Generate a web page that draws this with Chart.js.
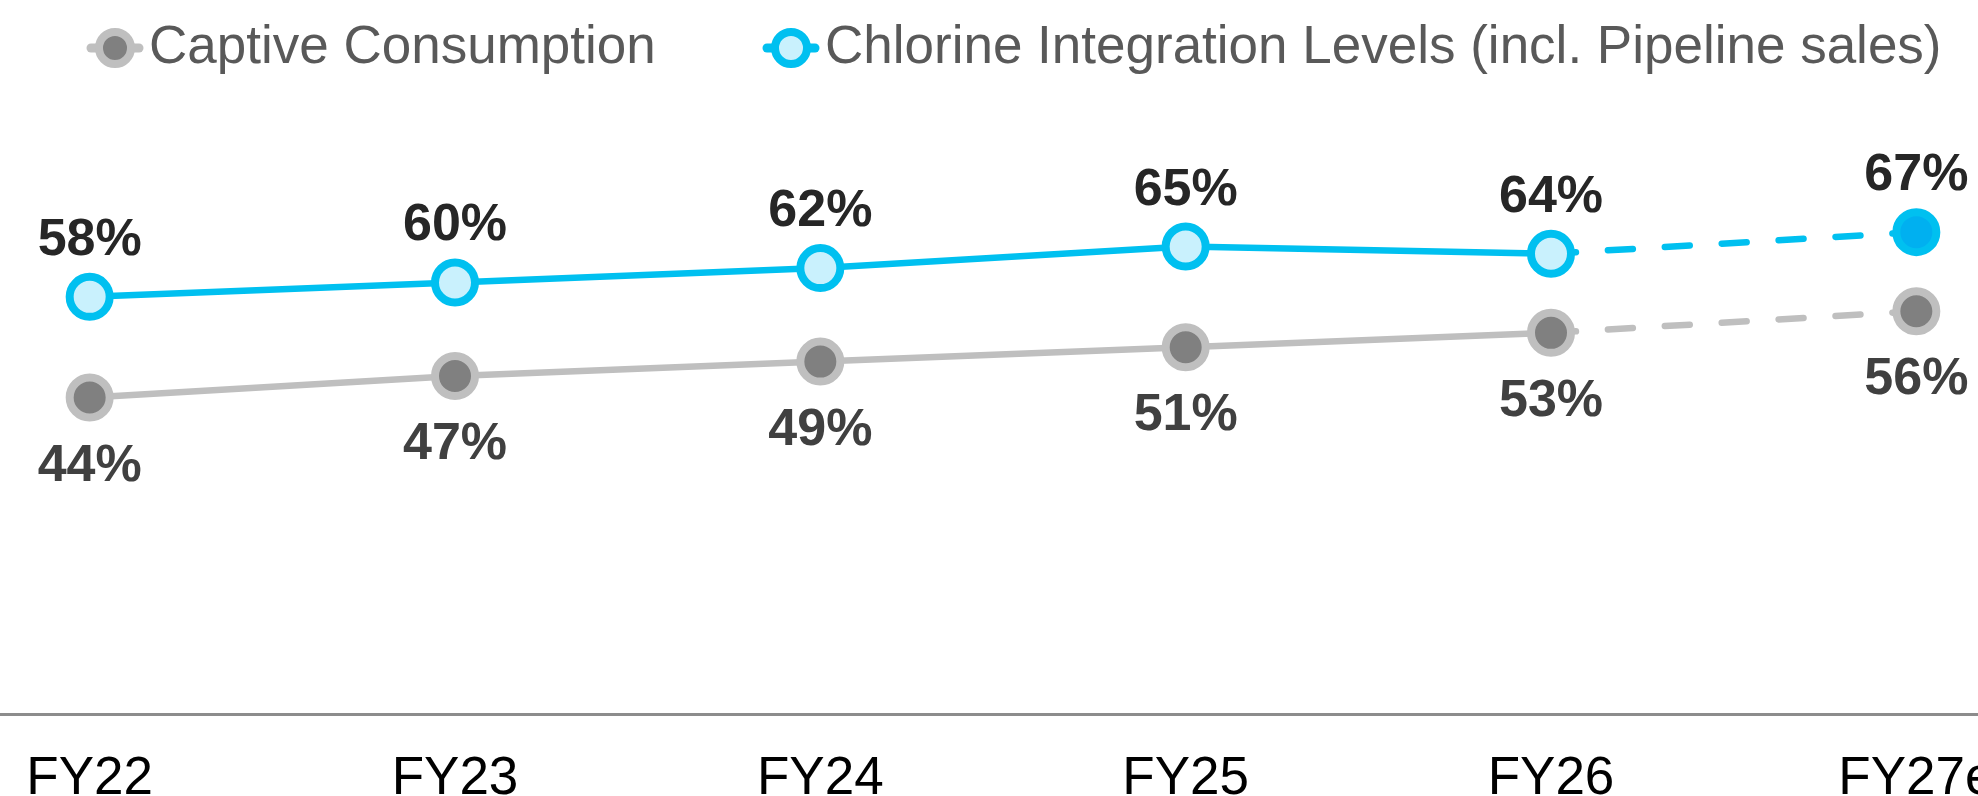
<!DOCTYPE html>
<html>
<head>
<meta charset="utf-8">
<script src="https://cdn.jsdelivr.net/npm/chart.js@4/dist/chart.umd.min.js"></script>
<style>
  html, body { margin: 0; padding: 0; background: #fff; width: 1978px; height: 796px; overflow: hidden; }
  #wrap { position: relative; width: 1978px; height: 796px; overflow: hidden; }
  #chart { position: absolute; left: -121px; top: -26px; }
</style>
</head>
<body>
<div id="wrap"><canvas id="chart" width="2248" height="822"></canvas></div>
<script>
// Fiscal years; the last one is an estimate
const years = ['FY22', 'FY23', 'FY24', 'FY25', 'FY26', 'FY27e'];
// Captive consumption, % of chlorine output
const captive = [44, 47, 49, 51, 53, 56];
// Chlorine integration levels incl. pipeline sales, %
const chlorine = [58, 60, 62, 65, 64, 67];
// First index that is an estimate (drawn dashed)
const estimateFrom = 5;

const FONT = "'Liberation Sans', Arial, Helvetica, sans-serif";
// canvas sits this far left of / above the visible frame
const SHIFT_X = 121, SHIFT_Y = 26;

const GREY_LINE = '#BFBFBF', GREY_FILL = '#808080';
const BLUE_LINE = '#00C0F0', BLUE_FILL = '#C9F1FD', BLUE_EST = '#00B0F0';

const dashed = c => (c.p1DataIndex >= estimateFrom ? [25, 32] : undefined);

// Value labels: blue series above its points, grey series below
const valueLabels = {
  id: 'valueLabels',
  afterDatasetsDraw(chart) {
    const ctx = chart.ctx;
    ctx.save();
    ctx.font = `bold 52px ${FONT}`;
    ctx.textAlign = 'center';
    ctx.textBaseline = 'alphabetic';
    chart.data.datasets.forEach((ds, di) => {
      const meta = chart.getDatasetMeta(di);
      meta.data.forEach((pt, i) => {
        ctx.fillStyle = ds.labelColor;
        const y = ds.labelSide === 'above' ? pt.y - 42 : pt.y + 83;
        ctx.fillText(ds.data[i] + '%', pt.x, y);
      });
    });
    ctx.restore();
  }
};

// Legend drawn as line-with-marker swatches
const legendStarts = [86, 762];
const lineLegend = {
  id: 'lineLegend',
  afterDraw(chart) {
    const ctx = chart.ctx;
    const cy = 48 + SHIFT_Y;
    ctx.save();
    chart.data.datasets.forEach((ds, di) => {
      const x = legendStarts[di] + SHIFT_X;
      ctx.strokeStyle = ds.borderColor;
      ctx.lineWidth = 9;
      ctx.lineCap = 'round';
      ctx.beginPath();
      ctx.moveTo(x + 5, cy);
      ctx.lineTo(x + 53, cy);
      ctx.stroke();
      ctx.beginPath();
      ctx.arc(x + 29, cy, 16, 0, Math.PI * 2);
      ctx.fillStyle = ds.legendFill;
      ctx.fill();
      ctx.lineWidth = 8;
      ctx.stroke();
      ctx.font = `53px ${FONT}`;
      ctx.fillStyle = '#595959';
      ctx.textAlign = 'left';
      ctx.textBaseline = 'middle';
      ctx.fillText(ds.label, x + 63, cy);
    });
    ctx.restore();
  }
};

new Chart(document.getElementById('chart'), {
  type: 'line',
  data: {
    labels: years,
    datasets: [
      {
        label: 'Captive Consumption',
        data: captive,
        borderColor: GREY_LINE,
        borderWidth: 6.5,
        borderCapStyle: 'round',
        pointRadius: 20,
        pointHoverRadius: 20,
        pointBorderWidth: 8,
        pointBorderColor: GREY_LINE,
        pointBackgroundColor: GREY_FILL,
        segment: { borderDash: dashed },
        labelSide: 'below',
        labelColor: '#404040',
        legendFill: GREY_FILL,
        clip: false
      },
      {
        label: 'Chlorine Integration Levels (incl. Pipeline sales)',
        data: chlorine,
        borderColor: BLUE_LINE,
        borderWidth: 6.5,
        borderCapStyle: 'round',
        pointRadius: 20,
        pointHoverRadius: 20,
        pointBorderWidth: 8,
        pointBorderColor: BLUE_LINE,
        pointBackgroundColor: years.map((_, i) => (i >= estimateFrom ? BLUE_EST : BLUE_FILL)),
        segment: { borderDash: dashed },
        labelSide: 'above',
        labelColor: '#262626',
        legendFill: BLUE_FILL,
        clip: false
      }
    ]
  },
  options: {
    responsive: false,
    animation: false,
    events: [],
    layout: { padding: { left: 28, right: 28, top: 28, bottom: 0 } },
    plugins: { legend: { display: false }, tooltip: { enabled: false } },
    scales: {
      x: {
        offset: true,
        grid: { display: false, drawTicks: false },
        border: { display: true, color: '#8C8C8C', width: 3 },
        ticks: {
          color: '#000000',
          font: { family: FONT, size: 53 },
          padding: 34,
          maxRotation: 0,
          autoSkip: false
        },
        afterFit(scale) { scale.height = 82; }
      },
      y: { display: false, min: 0, max: 99 }
    }
  },
  plugins: [valueLabels, lineLegend]
});
</script>
</body>
</html>
